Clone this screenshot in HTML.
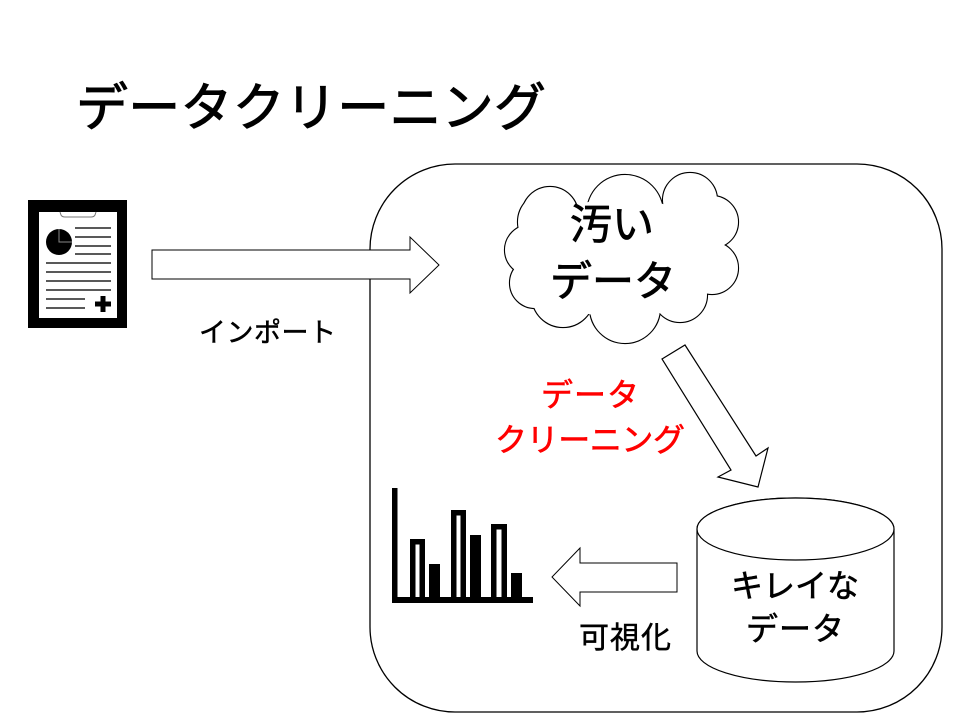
<!DOCTYPE html>
<html>
<head>
<meta charset="utf-8">
<style>
html,body{margin:0;padding:0;background:#fff;}
svg{display:block;}
text{font-family:"Liberation Sans","Noto Sans CJK JP",sans-serif;}
</style>
</head>
<body>
<svg width="960" height="720" viewBox="0 0 960 720" xmlns="http://www.w3.org/2000/svg">
  <rect x="0" y="0" width="960" height="720" fill="#fff"/>

  <!-- Title -->
  <text x="76" y="126" font-size="52" fill="#000" stroke="#000" stroke-width="1" textLength="470" lengthAdjust="spacing">データクリーニング</text>

  <!-- Big rounded container -->
  <rect x="370" y="164" width="572" height="548" rx="85" ry="85" fill="#fff" stroke="#000" stroke-width="1.3"/>

  <!-- Clipboard icon -->
  <rect x="28" y="200" width="99" height="128" fill="#000"/>
  <rect x="39" y="212" width="78" height="106" fill="#fff"/>
  <path d="M60,212 L61,215 Q62,217 65,217 L91,217 Q94,217 95,215 L96,212" fill="#fff" stroke="#777" stroke-width="1"/>
  <circle cx="59" cy="242" r="13" fill="#000"/>
  <path d="M59,229 L59,242 L72,242" fill="none" stroke="#888" stroke-width="1"/>
  <g stroke="#222" stroke-width="1.6">
    <line x1="75" y1="228" x2="111" y2="228"/>
    <line x1="75" y1="237" x2="111" y2="237"/>
    <line x1="75" y1="246" x2="111" y2="246"/>
    <line x1="75" y1="254" x2="111" y2="254"/>
    <line x1="46" y1="263" x2="111" y2="263"/>
    <line x1="46" y1="272" x2="111" y2="272"/>
    <line x1="46" y1="281" x2="111" y2="281"/>
    <line x1="46" y1="290" x2="111" y2="290"/>
    <line x1="46" y1="299" x2="85" y2="299"/>
    <line x1="46" y1="308" x2="85" y2="308"/>
  </g>
  <rect x="100.5" y="296" width="5" height="16" fill="#000"/>
  <rect x="95" y="301.5" width="16" height="5" fill="#000"/>

  <!-- Import arrow -->
  <polygon points="152,250 410,250 410,237 439,265 410,293 410,279 152,279" fill="#fff" stroke="#000" stroke-width="1"/>
  <text x="199" y="342" font-size="27" fill="#000" stroke="#000" stroke-width="0.5" textLength="137" lengthAdjust="spacing">インポート</text>

  <!-- Cloud -->
  <g fill="#fff" stroke="#000" stroke-width="2.2">
    <circle cx="550" cy="215" r="28"/>
    <circle cx="548" cy="222" r="30"/>
    <circle cx="625" cy="213" r="38"/>
    <circle cx="690" cy="200" r="27"/>
    <circle cx="712" cy="222" r="26"/>
    <circle cx="712" cy="268" r="26"/>
    <circle cx="680" cy="295" r="27"/>
    <circle cx="625" cy="308" r="35"/>
    <circle cx="563" cy="296" r="31"/>
    <circle cx="535" cy="283" r="25"/>
    <circle cx="530" cy="250" r="25"/>
  </g>
  <g fill="#fff" stroke="none">
    <circle cx="550" cy="215" r="28"/>
    <circle cx="548" cy="222" r="30"/>
    <circle cx="625" cy="213" r="38"/>
    <circle cx="690" cy="200" r="27"/>
    <circle cx="712" cy="222" r="26"/>
    <circle cx="712" cy="268" r="26"/>
    <circle cx="680" cy="295" r="27"/>
    <circle cx="625" cy="308" r="35"/>
    <circle cx="563" cy="296" r="31"/>
    <circle cx="535" cy="283" r="25"/>
    <circle cx="530" cy="250" r="25"/>
    <ellipse cx="622" cy="258" rx="95" ry="60"/>
  </g>
  <text x="612" y="239" font-size="42" fill="#000" stroke="#000" stroke-width="0.8" text-anchor="middle">汚い</text>
  <text x="613" y="296" font-size="42" fill="#000" stroke="#000" stroke-width="0.8" text-anchor="middle" textLength="126" lengthAdjust="spacing">データ</text>

  <!-- Diagonal arrow -->
  <polygon points="662,359 685,345 756,456 768,448 758,487 718,477 731,470" fill="#fff" stroke="#000" stroke-width="1.2" stroke-linejoin="miter"/>

  <!-- Red label -->
  <text x="590" y="406" font-size="32" fill="#ff0000" stroke="#ff0000" stroke-width="0.6" text-anchor="middle" textLength="98" lengthAdjust="spacing">データ</text>
  <text x="590" y="451" font-size="32" fill="#ff0000" stroke="#ff0000" stroke-width="0.6" text-anchor="middle" textLength="190" lengthAdjust="spacing">クリーニング</text>

  <!-- Cylinder -->
  <path d="M697,529 L697,651 A98.5,31 0 0 0 894,651 L894,529 A98.5,31 0 0 0 697,529 Z" fill="#fff" stroke="#000" stroke-width="1.2"/>
  <ellipse cx="795.5" cy="529" rx="98.5" ry="31" fill="#fff" stroke="#000" stroke-width="1.2"/>
  <text x="795" y="597" font-size="32" fill="#000" stroke="#000" stroke-width="0.6" text-anchor="middle" textLength="128" lengthAdjust="spacing">キレイな</text>
  <text x="795" y="640" font-size="32" fill="#000" stroke="#000" stroke-width="0.6" text-anchor="middle" textLength="98" lengthAdjust="spacing">データ</text>

  <!-- Left arrow -->
  <polygon points="677,563 580,563 580,548 552,577 580,606 580,592 677,592" fill="#fff" stroke="#000" stroke-width="1"/>
  <text x="625" y="648" font-size="30" fill="#000" stroke="#000" stroke-width="0.5" text-anchor="middle" textLength="92" lengthAdjust="spacing">可視化</text>

  <!-- Bar chart -->
  <rect x="392" y="488" width="5.5" height="115" fill="#000"/>
  <rect x="392" y="597" width="141" height="6" fill="#000"/>
  <g fill="none" stroke="#000" stroke-width="5.5">
    <rect x="412.75" y="541.75" width="9.5" height="58"/>
    <rect x="453.75" y="512.75" width="9.5" height="87"/>
    <rect x="493.75" y="526.75" width="10.5" height="73"/>
  </g>
  <rect x="429" y="564" width="11" height="35" fill="#000"/>
  <rect x="470" y="535" width="11" height="64" fill="#000"/>
  <rect x="511" y="573" width="11" height="26" fill="#000"/>
</svg>
</body>
</html>
